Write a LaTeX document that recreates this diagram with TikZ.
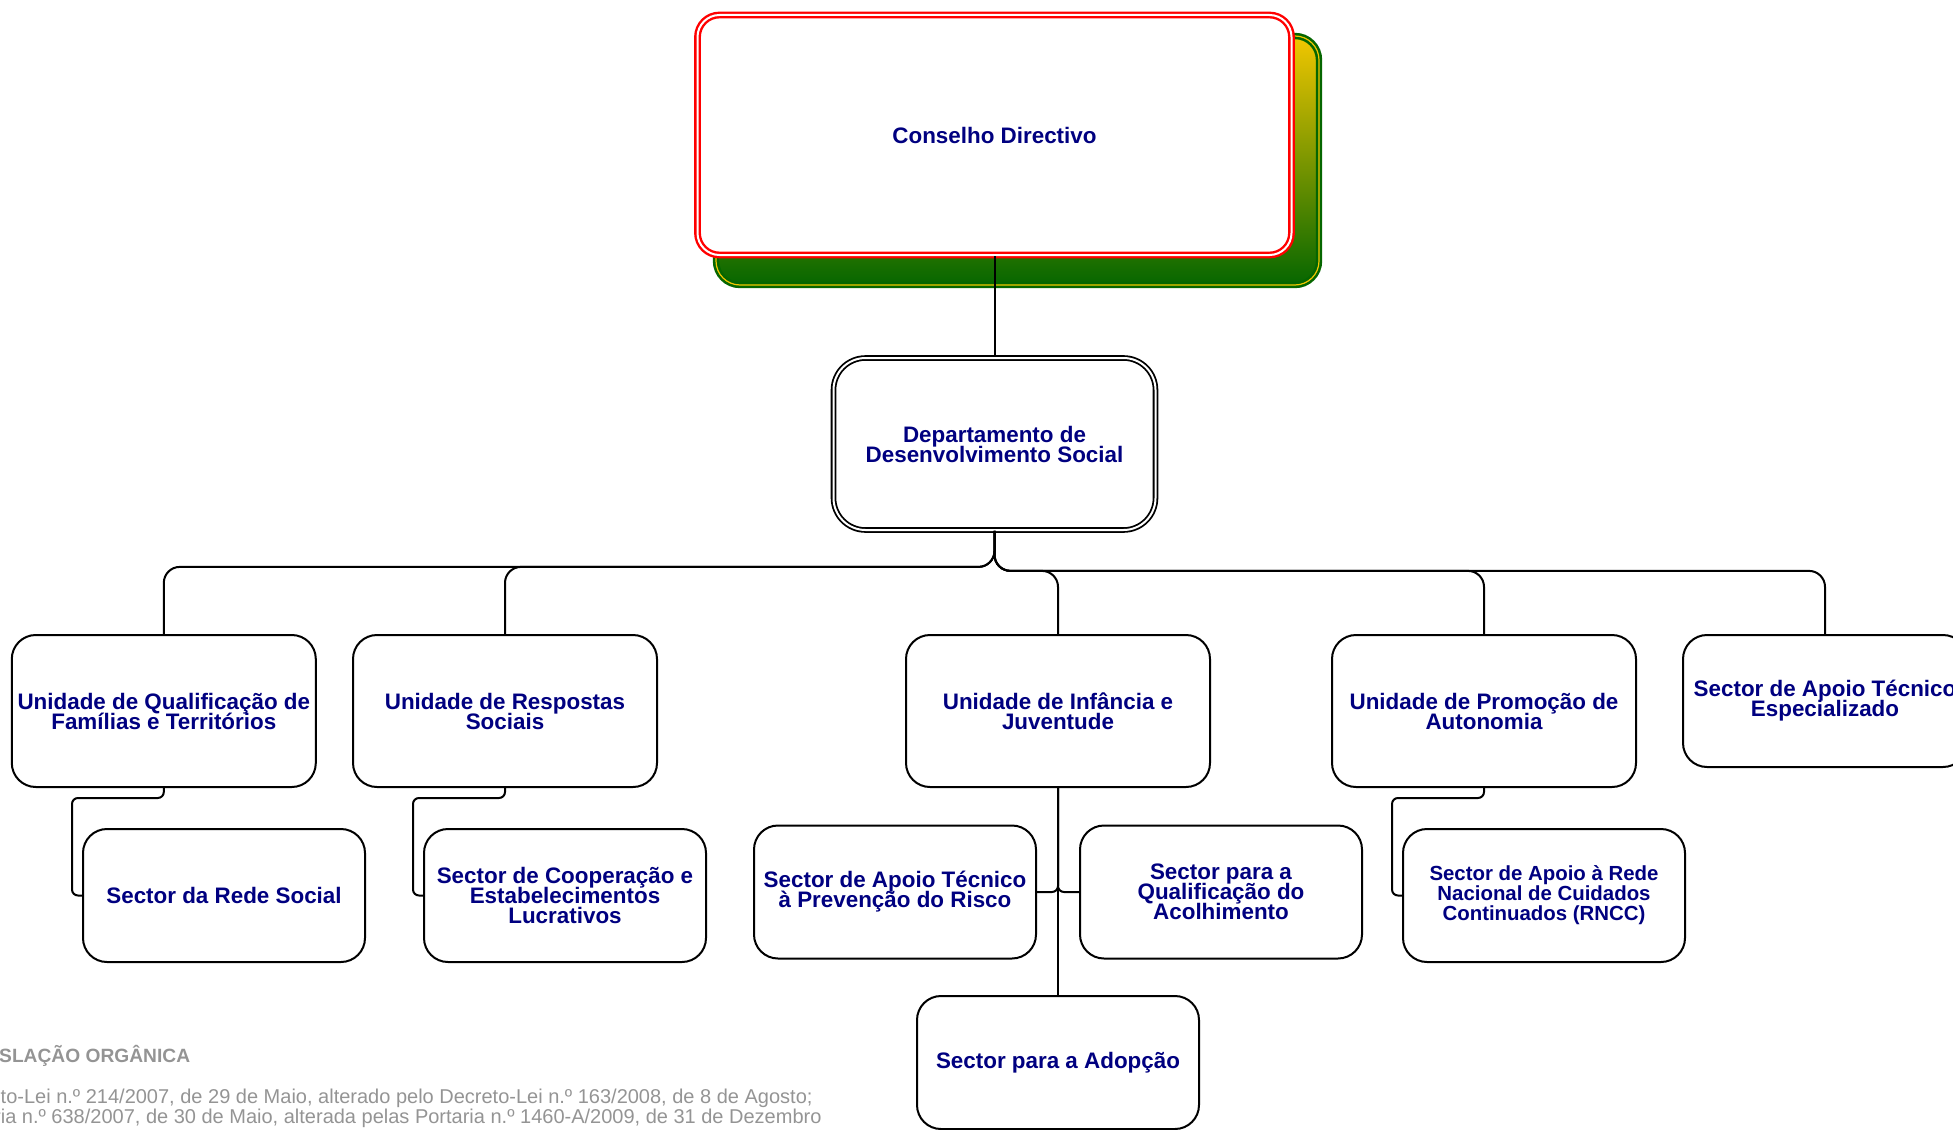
\documentclass[tikz,border=0pt]{standalone}
\usepackage{fontspec}
\setmainfont{Liberation Sans}
\usepackage{tikz}
\usetikzlibrary{positioning, shapes, calc}
\definecolor{orgblue}{rgb}{0, 0, 0.5}
\definecolor{leigray}{rgb}{0.58, 0.58, 0.58}
\definecolor{shadowgreen}{rgb}{0.02, 0.4, 0}
\definecolor{shadowyellow}{rgb}{0.95, 0.78, 0}
\newcommand{\orgfont}{\bfseries\fontsize{11.2}{10}\selectfont\setlength{\lineskiplimit}{-10pt}}
\newcommand{\orgsmallfont}{\bfseries\fontsize{10.2}{10}\selectfont\setlength{\lineskiplimit}{-10pt}}

\tikzset{
  orgbox/.style={draw=black, line width=1pt, fill=white, rounded corners=12pt, align=center,
    text=orgblue, font=\orgfont, inner sep=0pt},
  unitbox/.style={orgbox, minimum width=152pt, minimum height=76pt},
  sectorbox/.style={orgbox, minimum width=141pt, minimum height=66.5pt},
  link/.style={draw=black, line width=1pt, rounded corners=8pt},
  sublink/.style={link, rounded corners=3pt},
  leitext/.style={text=leigray, anchor=base west, inner sep=0pt, font=\fontsize{10}{10}\selectfont}
}

\begin{document}
\begin{tikzpicture}[x=0.5pt, y=-0.5pt]
\useasboundingbox (0,0) rectangle (1953,1129);
\pgfmathsetmacro{\unity}{711}
\pgfmathsetmacro{\secty}{895.5}

% shadow behind the board box
\draw[shadowgreen, line width=1.3pt, double=shadowyellow, double distance=0.6pt, rounded corners=12pt,
  top color=shadowyellow, bottom color=shadowgreen] (716,36) rectangle (1319,285);
\node[orgbox, draw=red, double=white, line width=1.2pt, double distance=1pt, minimum width=297pt, minimum height=120pt, rounded corners=11pt] (cd) at (994.5,135) {Conselho Directivo};

\node[orgbox, double=white, line width=0.9pt, double distance=1pt, minimum width=161pt, minimum height=86pt, rounded corners=16pt] (dds) at (994.5,444) {Departamento de\\Desenvolvimento Social};

% units
\node[unitbox] (uqft) at (163.8,\unity) {Unidade de Qualificação de\\Famílias e Territórios};
\node[unitbox] (urs) at (505,\unity) {Unidade de Respostas\\Sociais};
\node[unitbox] (uij) at (1058,\unity) {Unidade de Infância e\\Juventude};
\node[unitbox] (upa) at (1484,\unity) {Unidade de Promoção de\\Autonomia};
\node[unitbox, minimum width=142pt, minimum height=66pt] (sate) at (1825,701) {Sector de Apoio Técnico\\Especializado};

% sectors
\node[sectorbox] (srs) at (224,\secty) {Sector da Rede Social};
\node[sectorbox] (scel) at (565,\secty) {Sector de Cooperação e\\Estabelecimentos\\Lucrativos};
\node[sectorbox] (satpr) at (895,892) {Sector de Apoio Técnico\\à Prevenção do Risco};
\node[sectorbox] (sqa) at (1221,892) {Sector para a\\Qualificação do\\Acolhimento};
\node[sectorbox, font=\orgsmallfont] (srncc) at (1544,\secty) {Sector de Apoio à Rede\\Nacional de Cuidados\\Continuados (RNCC)};
\node[sectorbox] (sa) at (1058,1062.5) {Sector para a Adopção};

\draw[link] (cd.south) -- (dds.north);
\foreach \u in {uqft, urs}
  \draw[link] (dds.south) -- ++(0,36) -| (\u.north);
\foreach \u in {uij, upa, sate}
  \draw[link] (dds.south) -- ++(0,40) -| (\u.north);

\draw[sublink] (uqft.south) -- ++(0,10) -| ([xshift=-5pt]srs.west) -- (srs.west);
\draw[sublink] (urs.south) -- ++(0,10) -| ([xshift=-5pt]scel.west) -- (scel.west);
\draw[sublink] (upa.south) -- ++(0,10) -| ([xshift=-5pt]srncc.west) -- (srncc.west);
\draw[sublink] (uij.south) -- (sa.north);
\draw[sublink] (uij.south) |- (satpr.east);
\draw[sublink] (uij.south) |- (sqa.west);

% legislation note
\node[leitext, font=\bfseries\fontsize{9.6}{10}\selectfont] (leg) at (-46,1062) {LEGISLAÇÃO ORGÂNICA};
\node[leitext] (dl) at (-53,1103) {Decreto-Lei n.º 214/2007, de 29 de Maio, alterado pelo Decreto-Lei n.º 163/2008, de 8 de Agosto;};
\node[leitext] (port) at (-54,1123) {Portaria n.º 638/2007, de 30 de Maio, alterada pelas Portaria n.º 1460-A/2009, de 31 de Dezembro};
\end{tikzpicture}
\end{document}
